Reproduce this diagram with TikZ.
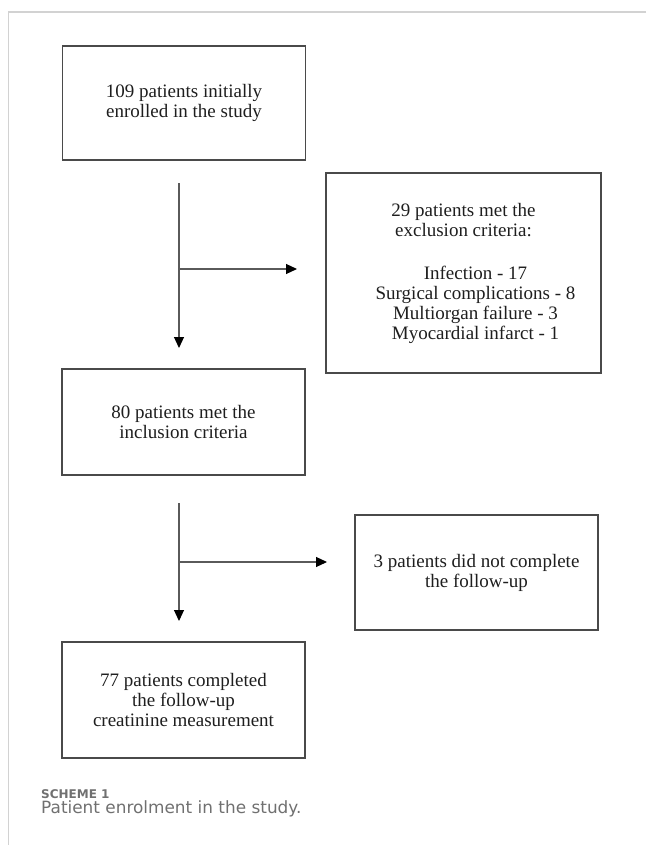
\documentclass[tikz,border=0pt]{standalone}
\usepackage{fontspec}
\setmainfont{Liberation Serif}
\newfontfamily\capfont{DejaVu Sans}
\usetikzlibrary{arrows.meta}
\definecolor{boxline}{HTML}{4A4A4A}
\definecolor{arrline}{HTML}{5A5A5A}
\definecolor{txt}{HTML}{1E1E1E}
\definecolor{capcol}{HTML}{707070}
\definecolor{framecol}{HTML}{D2D2D2}
\begin{document}
\begin{tikzpicture}[x=1pt,y=-1pt,
  box/.style={draw=boxline, line width=1.2pt, inner sep=0pt, align=center, text=txt,
    font=\fontsize{19}{20}\selectfont},
  flow/.style={draw=arrline, line width=1.1pt, -{Triangle[length=11pt,width=10pt,color=black]}},
  frame/.style={draw=framecol, line width=1.4pt},
  capA/.style={anchor=base west, inner sep=0pt, text=capcol, font=\capfont\bfseries\fontsize{12}{14}\selectfont},
  capB/.style={anchor=base west, inner sep=0pt, text=capcol, font=\capfont\fontsize{16.9}{19}\selectfont}]
\useasboundingbox (0,0) rectangle (646,845);
% page frame
\coordinate (ftl) at (8.5,12);
\coordinate (ftr) at (646,12);
\coordinate (fbl) at (8.5,845);
\draw[frame] (ftr) -- (ftl) -- (fbl);
% boxes
\node[box, minimum width=243pt, minimum height=114pt] (enrolled) at (184,103)
  {109 patients initially\\enrolled in the study};
\node[box, minimum width=275pt, minimum height=200pt] (excluded) at (463.5,273)
  {29 patients met the\\exclusion criteria:\\[23pt]
   \hspace*{24pt}Infection - 17\\
   \hspace*{24pt}Surgical complications - 8\\
   \hspace*{24pt}Multiorgan failure - 3\\
   \hspace*{24pt}Myocardial infarct - 1};
\node[box, minimum width=243pt, minimum height=106pt] (included) at (183.5,422)
  {80 patients met the\\inclusion criteria};
\node[box, minimum width=243pt, minimum height=115pt] (lost) at (476.5,572.5)
  {3 patients did not complete\\the follow-up};
\node[box, minimum width=243pt, minimum height=116pt] (completed) at (183.5,700)
  {77 patients completed\\the follow-up\\creatinine measurement};
% connectors
\coordinate (a1s) at (179,183);
\coordinate (a1b) at (179,269);
\coordinate (a1e) at (179,348);
\coordinate (a1r) at (297,269);
\draw[flow] (a1s) -- (a1e);
\draw[flow] (a1b) -- (a1r);
\coordinate (a2s) at (179,503);
\coordinate (a2b) at (179,562);
\coordinate (a2e) at (179,621);
\coordinate (a2r) at (327,562);
\draw[flow] (a2s) -- (a2e);
\draw[flow] (a2b) -- (a2r);
% caption
\node[capA] (cap1) at (41,798.5) {SCHEME 1};
\node[capB] (cap2) at (41,813.5) {Patient enrolment in the study.};
\end{tikzpicture}
\end{document}
